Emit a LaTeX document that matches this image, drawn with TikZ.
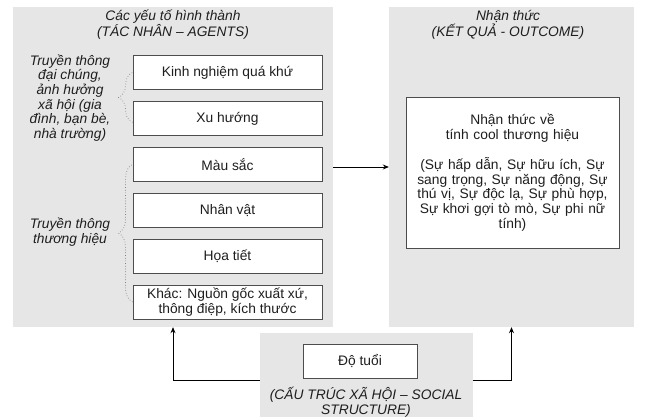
\documentclass[tikz,border=0pt]{standalone}
\usepackage{fontspec}
\setmainfont{Liberation Sans}
\usetikzlibrary{positioning, arrows.meta, decorations.pathreplacing}
\definecolor{panelgray}{HTML}{E6E6E6}
\definecolor{edgegray}{HTML}{4D4D4D}
\definecolor{inkgray}{HTML}{1E1E1E}

\begin{document}
\begin{tikzpicture}[x = 1pt, y = -1pt,
        every node/.append style = {font = \fontsize{13.8}{14.6}\selectfont, text = inkgray},
        panel/.style = {fill = panelgray, draw = none, inner sep = 0pt},
        factor/.style = {draw = edgegray, fill = white, line width = 0.9pt, minimum width = 189pt, minimum height = 34pt, inner sep = 2pt, align = center},
        note/.style = {font = \fontsize{13.8}{14.6}\selectfont\itshape, align = center, inner sep = 0pt},
        link/.style = {draw = black, line width = 0.8pt, -{Stealth[length = 6pt, width = 5pt]}},
        dotbrace/.style = {draw = gray, line width = 0.7pt, dotted, decorate, decoration = {brace, amplitude = 14pt}}]
        \useasboundingbox (0,0) rectangle (649,417);
        % panels
        \node[panel, minimum width = 320pt, minimum height = 320pt] (agents) at (173,167) {};
        \node[panel, minimum width = 245pt, minimum height = 320pt] (outcome) at (511.5,167) {};
        \node[panel, minimum width = 213pt, minimum height = 84pt] (social) at (366.5,375) {};
        \node[note] (agentstitle) at (173,25) {Các yếu tố hình thành\\(TÁC NHÂN – AGENTS)};
        \node[note] (outcometitle) at (508,25) {Nhận thức\\(KẾT QUẢ - OUTCOME)};
        \node[note] (socialtitle) at (366,402) {(CẤU TRÚC XÃ HỘI – SOCIAL\\STRUCTURE)};
        % agents
        \node[factor] (kinh) at (227.5,72.5) {Kinh nghiệm quá khứ};
        \node[factor, below = 11pt of kinh] (xu) {Xu hướng};
        \node[factor, below = 11pt of xu] (mau) {Màu sắc};
        \node[factor, below = 11pt of mau] (nhanvat) {Nhân vật};
        \node[factor, below = 11pt of nhanvat] (hoatiet) {Họa tiết};
        \node[factor, below = 11pt of hoatiet] (khac) {Khác: Nguồn gốc xuất xứ,\\thông điệp, kích thước};
        \node[note] (massnote) at (70,98) {Truyền thông\\đại chúng,\\ảnh hưởng\\xã hội (gia\\đình, bạn bè,\\nhà trường)};
        \node[note] (brandnote) at (70,232) {Truyền thông\\thương hiệu};
        \draw[dotbrace] ([yshift = -4pt]xu.west) -- (kinh.west);
        \draw[dotbrace] (khac.west) -- (mau.west);
        % outcome and social structure
        \node[factor, minimum width = 213pt, minimum height = 151pt, text width = 200pt] (percept) at (512.5,172.5)
            {Nhận thức về\\tính cool thương hiệu\\[14.6pt]
            (Sự hấp dẫn, Sự hữu ích, Sự\\sang trọng, Sự năng động, Sự\\thú vị, Sự độc lạ, Sự phù hợp,\\Sự khơi gợi tò mò, Sự phi nữ\\tính)};
        \node[factor, minimum width = 114pt] (age) at (360,361) {Độ tuổi};
        \draw[link] (agents.east) -- (outcome.west);
        \draw[link] ([yshift = -5pt]social.west) -| (agents.south);
        \draw[link] ([yshift = -5pt]social.east) -| (outcome.south);
    \end{tikzpicture}
\end{document}
